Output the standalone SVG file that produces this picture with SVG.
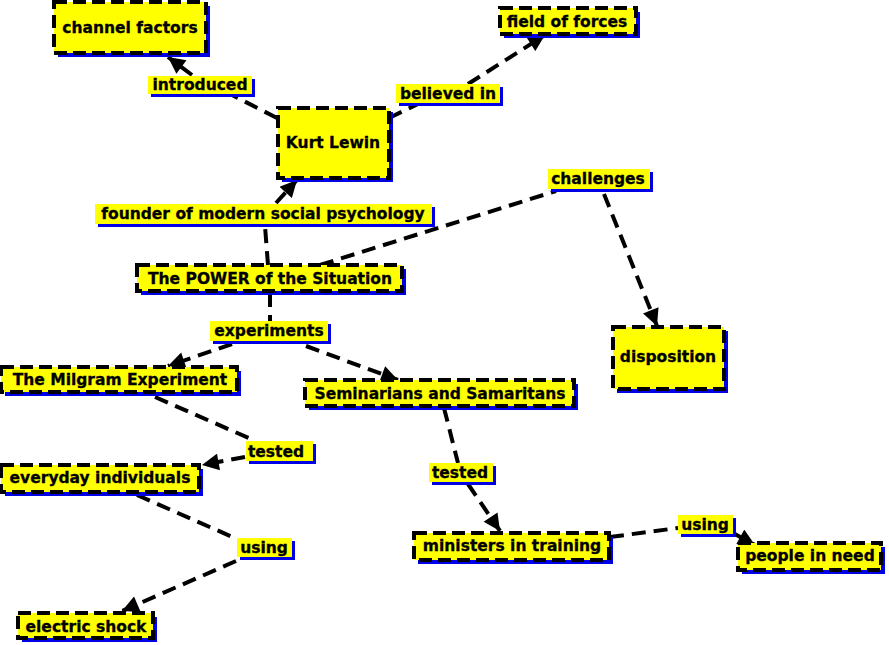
<svg xmlns="http://www.w3.org/2000/svg" width="889" height="645" viewBox="0 0 889 645">
<defs>
<style>
.sh{fill:#0000e6}
.nd{fill:#ffff00;stroke:#000;stroke-width:4;stroke-dasharray:13,6}
.lb{fill:#ffff00}
text{font-family:"DejaVu Sans",Verdana,sans-serif;font-weight:bold;font-size:15.5px;fill:#000;text-anchor:middle;stroke:#000;stroke-width:0.3}
.cn line{stroke:#000;stroke-width:4;stroke-dasharray:14,8;fill:none}
</style>
<marker id="ah" viewBox="0 0 10 10" refX="10" refY="5" markerWidth="4.5" markerHeight="4.2" orient="auto" markerUnits="strokeWidth">
<path d="M0,0 L10,5 L0,10 z" fill="#000"/>
</marker>
</defs>
<rect width="889" height="645" fill="#fff"/>
<g class="cn" id="connectors">
<line x1="277" y1="118" x2="232" y2="95"/>
<line x1="192" y1="75" x2="168" y2="57" marker-end="url(#ah)"/>
<line x1="389" y1="118" x2="418" y2="104"/>
<line x1="468" y1="84" x2="545" y2="35" marker-end="url(#ah)"/>
<line x1="268" y1="265" x2="265" y2="226"/>
<line x1="276" y1="203" x2="297" y2="180" marker-end="url(#ah)"/>
<line x1="320" y1="265" x2="556" y2="191"/>
<line x1="604" y1="194" x2="657" y2="326" marker-end="url(#ah)"/>
<line x1="270" y1="293" x2="270" y2="321"/>
<line x1="232" y1="344" x2="168" y2="366" marker-end="url(#ah)"/>
<line x1="306" y1="346" x2="398" y2="380" marker-end="url(#ah)"/>
<line x1="155" y1="397" x2="251" y2="439"/>
<line x1="245" y1="457" x2="202" y2="465" marker-end="url(#ah)"/>
<line x1="137" y1="495" x2="237" y2="539"/>
<line x1="236" y1="561" x2="122" y2="611" marker-end="url(#ah)"/>
<line x1="444" y1="408" x2="458" y2="463"/>
<line x1="468" y1="484" x2="500" y2="531" marker-end="url(#ah)"/>
<line x1="610" y1="537" x2="678" y2="528"/>
<line x1="733" y1="533" x2="755" y2="545" marker-end="url(#ah)"/>
</g>
<g id="channel-factors"><rect class="sh" x="58" y="6" width="152" height="51"/><rect class="nd" x="54" y="2" width="152" height="51"/><text x="130" y="33">channel factors</text></g>
<g id="field-of-forces"><rect class="sh" x="504" y="12" width="136" height="26"/><rect class="nd" x="500" y="8" width="136" height="26"/><text x="567" y="27">field of forces</text></g>
<g id="kurt-lewin"><rect class="sh" x="282" y="112" width="111" height="70"/><rect class="nd" x="278" y="108" width="111" height="70"/><text x="333" y="148">Kurt Lewin</text></g>
<g id="power"><rect class="sh" x="141" y="269" width="265" height="26"/><rect class="nd" x="137" y="265" width="265" height="26"/><text x="270" y="284">The POWER of the Situation</text></g>
<g id="disposition"><rect class="sh" x="617" y="331" width="111" height="62"/><rect class="nd" x="613" y="327" width="111" height="62"/><text x="668" y="362">disposition</text></g>
<g id="milgram"><rect class="sh" x="5" y="371" width="236" height="25"/><rect class="nd" x="1" y="367" width="236" height="25"/><text x="120" y="385">The Milgram Experiment</text></g>
<g id="seminarians"><rect class="sh" x="309" y="384" width="269" height="26"/><rect class="nd" x="305" y="380" width="269" height="26"/><text x="440" y="399">Seminarians and Samaritans</text></g>
<g id="everyday"><rect class="sh" x="5" y="469" width="198" height="27"/><rect class="nd" x="1" y="465" width="198" height="27"/><text x="100" y="483">everyday individuals</text></g>
<g id="electric-shock"><rect class="sh" x="22" y="617" width="135" height="25"/><rect class="nd" x="18" y="613" width="135" height="25"/><text x="86" y="632">electric shock</text></g>
<g id="ministers"><rect class="sh" x="418" y="537" width="195" height="27"/><rect class="nd" x="414" y="533" width="195" height="27"/><text x="512" y="551">ministers in training</text></g>
<g id="people-in-need"><rect class="sh" x="742" y="547" width="143" height="27"/><rect class="nd" x="738" y="543" width="143" height="27"/><text x="810" y="561">people in need</text></g>
<g id="lbl-introduced"><rect class="sh" x="151" y="79" width="104" height="18"/><rect class="lb" x="148" y="76" width="104" height="18"/><text x="200" y="90">introduced</text></g>
<g id="lbl-believed"><rect class="sh" x="399" y="87" width="104" height="19"/><rect class="lb" x="396" y="84" width="104" height="19"/><text x="448" y="99">believed in</text></g>
<g id="lbl-founder"><rect class="sh" x="98" y="207" width="337" height="20"/><rect class="lb" x="95" y="204" width="337" height="20"/><text x="263" y="219">founder of modern social psychology</text></g>
<g id="lbl-challenges"><rect class="sh" x="551" y="172" width="102" height="20"/><rect class="lb" x="548" y="169" width="102" height="20"/><text x="598" y="184">challenges</text></g>
<g id="lbl-experiments"><rect class="sh" x="213" y="324" width="118" height="20"/><rect class="lb" x="210" y="321" width="118" height="20"/><text x="269" y="336">experiments</text></g>
<g id="lbl-tested1"><rect class="sh" x="249" y="444" width="67" height="20"/><rect class="lb" x="246" y="441" width="67" height="20"/><text x="276" y="457">tested</text></g>
<g id="lbl-tested2"><rect class="sh" x="432" y="466" width="64" height="19"/><rect class="lb" x="429" y="463" width="64" height="19"/><text x="460" y="478">tested</text></g>
<g id="lbl-using1"><rect class="sh" x="240" y="541" width="55" height="19"/><rect class="lb" x="237" y="538" width="55" height="19"/><text x="264" y="553">using</text></g>
<g id="lbl-using2"><rect class="sh" x="681" y="518" width="55" height="19"/><rect class="lb" x="678" y="515" width="55" height="19"/><text x="705" y="530">using</text></g>
</svg>
